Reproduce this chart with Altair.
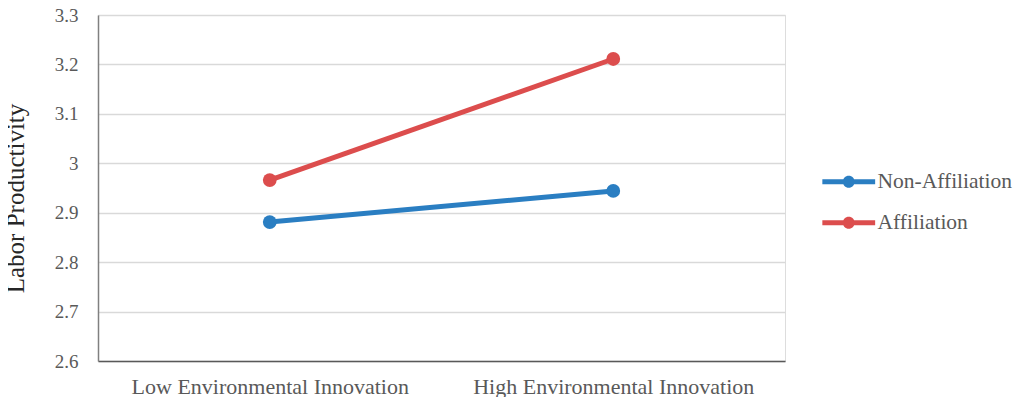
import altair as alt
import pandas as pd

categories = ["Low Environmental Innovation", "High Environmental Innovation"]
series = ["Non-Affiliation", "Affiliation"]
non_affiliation = [2.881, 2.944]
affiliation = [2.966, 3.211]
colors = ["#2a7ec2", "#dc4d4d"]

rows = []
for c, v in zip(categories, non_affiliation):
    rows.append({"cat": c, "series": series[0], "value": v})
for c, v in zip(categories, affiliation):
    rows.append({"cat": c, "series": series[1], "value": v})
df = pd.DataFrame(rows)

FONT = "Liberation Serif"

sym = ("M-4.4,-0.42 H-0.5 V0.42 H-4.4 Z "
       "M0.5,-0.42 H4.4 V0.42 H0.5 Z "
       "M1,0 A1,1 0 1,1 -1,0 A1,1 0 1,1 1,0 Z")

x = alt.X("cat:N", sort=categories, title=None,
          scale=alt.Scale(paddingInner=0, paddingOuter=0),
          axis=alt.Axis(labelAngle=0, labelPadding=15, grid=False,
                        labelFontSize=22, domainColor="#595959"))
y = alt.Y("value:Q", title="Labor Productivity",
          scale=alt.Scale(domain=[2.6, 3.3], nice=False, zero=False),
          axis=alt.Axis(values=[2.6, 2.7, 2.8, 2.9, 3.0, 3.1, 3.2, 3.3],
                        labelExpr="format(datum.value, '.1~f')",
                        labelFontSize=19,
                        labelPadding=20, domainColor="#808080",
                        titlePadding=26, titleY=183, titleAnchor="middle"))
color = alt.Color("series:N", sort=series,
                  scale=alt.Scale(domain=series, range=colors),
                  legend=alt.Legend(title=None, orient="none", legendX=740,
                                    legendY=156))

base = alt.Chart(df)
lines = base.mark_line(strokeWidth=5).encode(x=x, y=y, color=color, detail="series:N")
points = base.mark_circle(size=190, opacity=1).encode(x=x, y=y, color=color)

chart = (lines + points).properties(
    width=687, height=346,
    autosize=alt.AutoSizeParams(type="none"),
    padding={"left": 90, "top": 7, "right": 231, "bottom": 36},
).configure_view(stroke=None).configure(
    background="white", font=FONT
).configure_axis(
    labelFont=FONT, labelColor="#595959", labelLimit=500,
    ticks=False, domainWidth=1.5, gridColor="#d9d9d9", gridWidth=1.5,
    titleFont=FONT, titleFontSize=25, titleFontWeight="normal", titleColor="#262626",
).configure_legend(
    symbolType=sym, symbolSize=144, symbolStrokeWidth=0, labelFont=FONT,
    labelFontSize=21.5, labelColor="#595959", labelOffset=18, rowPadding=18,
    labelLimit=500,
)

chart.save("out.html", embed_options={"renderer": "svg", "actions": False})
